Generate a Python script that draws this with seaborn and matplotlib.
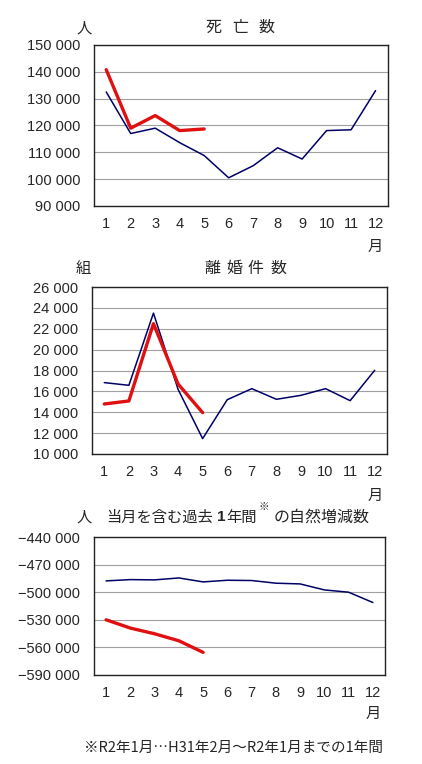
import numpy as np
import pandas as pd
import matplotlib
matplotlib.use("Agg")
import matplotlib.pyplot as plt
import seaborn as sns
from matplotlib.ticker import FixedLocator, FuncFormatter

months = list(range(1, 13))

# 死亡数
death_prev = [132500, 117000, 119000, 113600, 108800, 100500, 105000, 111700, 107500, 118100, 118400, 133000]
death_curr = [140800, 119000, 123700, 118100, 118700]

# 離婚件数
divorce_prev = [16840, 16580, 23500, 16200, 11470, 15200, 16260, 15240, 15620, 16260, 15110, 18020]
divorce_curr = [14790, 15080, 22490, 16710, 13960]

# 自然増減数 (過去1年間)
natural_prev = [-487700, -486300, -486600, -484500, -488800, -487000, -487300, -490200, -491000, -497500, -500000, -511200]
natural_curr = [-530000, -539000, -545200, -552800, -565400]

sns.set_style("white")
plt.rcParams['font.family'] = ['Noto Sans CJK JP', 'DejaVu Sans']

BLUE = '#000066'
RED = '#e01010'
NUMFONT = ['Liberation Sans', 'DejaVu Sans']


def fmt(v, pos=None):
    s = f"{abs(v):,.0f}".replace(",", " ")
    return ("\u2212" + s) if v < 0 else s


def panel(fig, rect, prev, curr, ylim, step, month_y):
    ax = fig.add_axes(rect)
    df_prev = pd.DataFrame({"m": np.arange(len(prev)), "v": prev})
    df_curr = pd.DataFrame({"m": np.arange(len(curr)), "v": curr})
    sns.lineplot(data=df_prev, x="m", y="v", color=BLUE, linewidth=1.1, ax=ax)
    sns.lineplot(data=df_curr, x="m", y="v", color=RED, linewidth=2.4, ax=ax)
    ax.set_xlim(-0.5, 11.5)
    ax.set_ylim(*ylim)
    ax.set_yticks(np.arange(ylim[0], ylim[1] + step / 2, step))
    ax.yaxis.set_major_formatter(FuncFormatter(fmt))
    ax.set_xticks(range(12))
    ax.set_xticklabels([str(m) for m in months])
    ax.xaxis.set_minor_locator(FixedLocator(np.arange(0.5, 11, 1)))
    ax.tick_params(axis='x', which='major', length=0, labelsize=10.5, pad=8)
    ax.tick_params(axis='x', which='minor', length=3, direction='in', width=0.8, color='#333333')
    ax.tick_params(axis='y', which='major', length=2, labelsize=10.5, pad=8)
    for lab in ax.get_xticklabels() + ax.get_yticklabels():
        lab.set_family(NUMFONT)
    ax.grid(axis='y', color='#a0a0a0', linewidth=0.8)
    ax.set_axisbelow(True)
    for s in ax.spines.values():
        s.set_color('#222222')
        s.set_linewidth(1.0)
    ax.set_xlabel("")
    ax.set_ylabel("")
    ax.text(11, month_y, "月", transform=ax.get_xaxis_transform(), ha='center', va='top', fontsize=11)
    return ax


def px(x, y):
    return x / 422, 1 - y / 764


fig = plt.figure(figsize=(4.22, 7.64), dpi=100)

panel(fig, [0.2227, 0.7304, 0.6963, 0.2107], death_prev, death_curr,
      (90000, 150000), 10000, -0.2)
for ch, cx in zip("死亡数", [214, 240, 266]):
    fig.text(*px(cx, 27), ch, ha='center', va='center', fontsize=11.5)
fig.text(*px(84, 28), "人", ha='center', va='center', fontsize=11)

panel(fig, [0.2180, 0.4058, 0.6991, 0.2185], divorce_prev, divorce_curr,
      (10000, 26000), 2000, -0.2)
for ch, cx in zip("離婚件数", [212, 234, 256, 278]):
    fig.text(*px(cx, 268), ch, ha='center', va='center', fontsize=11.5)
fig.text(*px(83, 268), "組", ha='center', va='center', fontsize=11)

panel(fig, [0.2227, 0.1165, 0.6896, 0.1806], natural_prev, natural_curr,
      (-590000, -440000), 30000, -0.22)
fig.text(*px(84, 517), "人", ha='center', va='center', fontsize=11)
fig.text(*px(106, 517), "当月を含む過去", ha='left', va='center', fontsize=11)
fig.text(*px(217, 517), "1", ha='left', va='center', fontsize=11, fontweight='bold', family=NUMFONT)
fig.text(*px(226, 517), "年間", ha='left', va='center', fontsize=11)
fig.text(*px(259, 507), "※", ha='left', va='center', fontsize=7.5)
fig.text(*px(274, 517), "の自然増減数", ha='left', va='center', fontsize=11.5)

fig.text(*px(233, 748), "※R2年1月…H31年2月～R2年1月までの1年間", ha='center', va='center', fontsize=10.5)

fig.savefig("out.png", dpi=100)
